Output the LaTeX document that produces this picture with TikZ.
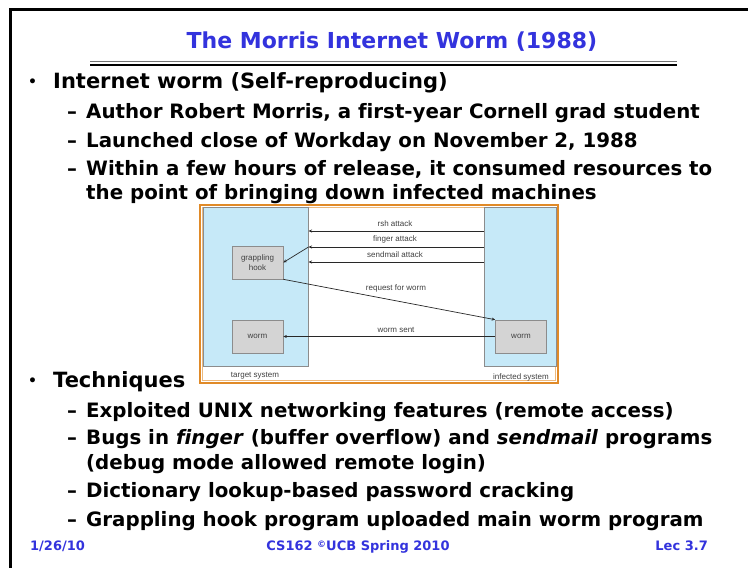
\documentclass[tikz,border=0pt]{standalone}
\usepackage{fontspec}
\setmainfont{DejaVu Sans}[Ligatures=NoCommon]
\newfontfamily\figfont{Liberation Sans}
\usetikzlibrary{arrows.meta}
\definecolor{slideblue}{RGB}{51,51,221}
\definecolor{panelblue}{RGB}{198,233,248}
\definecolor{boxgray}{RGB}{212,212,212}
\definecolor{edgegray}{RGB}{140,140,140}
\definecolor{frameorange}{RGB}{224,138,40}
\definecolor{arrowgray}{RGB}{40,40,40}
\begin{document}
\begin{tikzpicture}[x=1pt,y=-1pt,
  slidetitle/.style={font=\fontsize{22}{26}\selectfont\bfseries, text=slideblue, anchor=base, inner sep=0},
  lvlone/.style={font=\fontsize{21}{25}\selectfont\bfseries, anchor=base west, inner sep=0},
  lvltwo/.style={font=\fontsize{19.8}{23}\selectfont\bfseries, anchor=base west, inner sep=0},
  dot/.style={font=\fontsize{14}{16}\selectfont\bfseries, anchor=base west, inner sep=0},
  foot/.style={font=\fontsize{13}{16}\selectfont\bfseries, text=slideblue, inner sep=0},
  panel/.style={fill=panelblue, draw=edgegray, line width=0.5pt},
  procbox/.style={fill=boxgray, draw=edgegray, line width=0.6pt, minimum width=51pt,
    minimum height=33pt, inner sep=1pt, font=\figfont\fontsize{8}{9.5}\selectfont,
    align=center, text=black!75},
  figlabel/.style={font=\figfont\fontsize{8}{9.5}\selectfont, text=black!75, inner sep=0},
  msg/.style={draw=arrowgray, line width=0.7pt, -{Stealth[length=3.5pt,width=3pt]}}]

\useasboundingbox[fill=white] (0,0) rectangle (748,568);

% slide frame
\draw[line width=3pt] (10,568) -- (10,9) -- (748,9);

% title and rule
\node[slidetitle] (title) at (392,48) {The Morris Internet Worm (1988)};
\draw[line width=0.6pt, black!55] (90,61.5) -- (677,61.5);
\draw[line width=1.8pt] (90,65) -- (677,65);

% first bullet
\node[dot] (dotA) at (28,86) {•};
\node[lvlone] (bulletA) at (53,88) {Internet worm (Self-reproducing)};
\node[lvltwo] (dashA1) at (67,118) {–};
\node[lvltwo] (itemA1) at (86,118) {Author Robert Morris, a first-year Cornell grad student};
\node[lvltwo] (dashA2) at (67,147) {–};
\node[lvltwo] (itemA2) at (86,147) {Launched close of Workday on November 2, 1988};
\node[lvltwo] (dashA3) at (67,175) {–};
\node[lvltwo] (itemA3) at (86,175) {Within a few hours of release, it consumed resources to};
\node[lvltwo] (itemA3b) at (86,199) {the point of bringing down infected machines};

% diagram
\draw[frameorange, line width=1.3pt] (200,205) rectangle (558,383);
\draw[frameorange!60, line width=0.5pt] (202.3,207.3) rectangle (555.7,380.7);
\path[panel] (203,207) rectangle (308,366);
\path[panel] (484,207) rectangle (556,366);

\node[procbox] (grapple) at (257.5,262.5) {grappling\\hook};
\node[procbox] (wormL) at (257.5,336.5) {worm};
\node[procbox] (wormR) at (521,336.5) {worm};

\coordinate (rshfrom) at (484,231);
\coordinate (rshto) at (308.5,231);
\coordinate (fingerfrom) at (484,247);
\coordinate (fingerto) at (308.5,247);
\coordinate (mailfrom) at (484,262);
\coordinate (mailto) at (308.5,262);

\draw[msg] (rshfrom) -- (rshto);
\draw[msg] (fingerfrom) -- (fingerto);
\draw[msg] (fingerto) -- (grapple.east);
\draw[msg] (mailfrom) -- (mailto);
\draw[msg] (grapple.south east) -- (wormR.north west);
\draw[msg] (wormR.west) -- (wormL.east);

\node[figlabel] (rshlbl) at (395,224) {rsh attack};
\node[figlabel] (fingerlbl) at (395,239.5) {finger attack};
\node[figlabel] (maillbl) at (395,255) {sendmail attack};
\node[figlabel] (reqlbl) at (396,288) {request for worm};
\node[figlabel] (sentlbl) at (396,330) {worm sent};
\node[figlabel] (targetlbl) at (255,376) {target system};
\node[figlabel] (infectedlbl) at (521,377) {infected system};

% second bullet
\node[dot] (dotB) at (28,385) {•};
\node[lvlone] (bulletB) at (53,387) {Techniques};
\node[lvltwo] (dashB1) at (67,417) {–};
\node[lvltwo] (itemB1) at (86,417) {Exploited UNIX networking features (remote access)};
\node[lvltwo] (dashB2) at (67,444) {–};
\node[lvltwo] (itemB2) at (86,444) {Bugs in \textit{finger} (buffer overflow) and \textit{sendmail} programs};
\node[lvltwo] (itemB2b) at (86,469) {(debug mode allowed remote login)};
\node[lvltwo] (dashB3) at (67,497) {–};
\node[lvltwo] (itemB3) at (86,497) {Dictionary lookup-based password cracking};
\node[lvltwo] (dashB4) at (67,526) {–};
\node[lvltwo] (itemB4) at (86,526) {Grappling hook program uploaded main worm program};

% footer
\node[foot, anchor=base west] (date) at (30,550) {1/26/10};
\node[foot, anchor=base] (course) at (358,550) {CS162 \raisebox{0.35ex}{\fontsize{9}{10}\selectfont ©}UCB Spring 2010};
\node[foot, anchor=base east] (lecture) at (708,550) {Lec 3.7};
\end{tikzpicture}
\end{document}
